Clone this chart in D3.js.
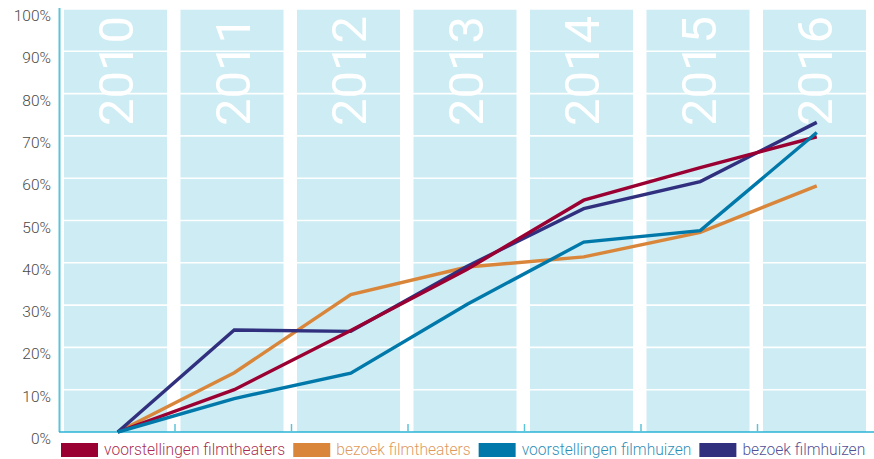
<!DOCTYPE html>
<html>
<head>
<meta charset="utf-8">
<script src="https://cdn.jsdelivr.net/npm/d3@7.9.0/dist/d3.min.js"></script>
<style>
  body { margin: 0; background: #fff; }
  svg { display: block; font-family: Roboto, sans-serif; }
</style>
</head>
<body>
<svg id="chart" width="874" height="459"></svg>
<script>
const years = ['2010', '2011', '2012', '2013', '2014', '2015', '2016'];
const yTicks = [0, 0.1, 0.2, 0.3, 0.4, 0.5, 0.6, 0.7, 0.8, 0.9, 1];

const seriesNames = [
  'voorstellingen filmtheaters',
  'bezoek filmtheaters',
  'voorstellingen filmhuizen',
  'bezoek filmhuizen'
];
const seriesColors = ['#9a0032', '#d9863b', '#0079aa', '#30307f'];

const voorstellingenFilmtheaters = [0, 0.10, 0.24, 0.385, 0.548, 0.625, 0.698];
const bezoekFilmtheaters = [0, 0.14, 0.325, 0.39, 0.414, 0.472, 0.582];
const voorstellingenFilmhuizen = [0, 0.079, 0.139, 0.302, 0.449, 0.476, 0.708];
const bezoekFilmhuizen = [0, 0.241, 0.238, 0.392, 0.528, 0.592, 0.732];

const seriesValues = [
  voorstellingenFilmtheaters,
  bezoekFilmtheaters,
  voorstellingenFilmhuizen,
  bezoekFilmhuizen
];

const svg = d3.select('#chart');

const x = d3.scaleBand()
  .domain(years)
  .range([59, 874.5]);

const y = d3.scaleLinear()
  .domain([0, 1])
  .range([432, 9]);

// light blue column per year
svg.append('g')
  .selectAll('rect')
  .data(years)
  .join('rect')
  .attr('x', d => x(d) + 5)
  .attr('y', y(1))
  .attr('width', 103)
  .attr('height', y(0) - y(1))
  .attr('fill', '#cdecf3');

// white gridlines
svg.append('g')
  .selectAll('line')
  .data(yTicks.slice(1))
  .join('line')
  .attr('x1', 59)
  .attr('x2', 874)
  .attr('y1', d => y(d))
  .attr('y2', d => y(d))
  .attr('stroke', '#fff')
  .attr('stroke-width', 1.6);

// big year labels
svg.append('g')
  .selectAll('text')
  .data(years)
  .join('text')
  .attr('transform', d => `translate(${x(d) + 57},126) rotate(-90)`)
  .attr('dy', '0.355em')
  .attr('fill', '#fff')
  .attr('font-size', 49)
  .text(d => d);

// axes
svg.append('line')
  .attr('x1', 59.5).attr('x2', 59.5)
  .attr('y1', 8).attr('y2', y(0))
  .attr('stroke', '#5cc4d9')
  .attr('stroke-width', 2);

svg.append('line')
  .attr('x1', 59).attr('x2', 874)
  .attr('y1', y(0)).attr('y2', y(0))
  .attr('stroke', '#2bb3d5')
  .attr('stroke-width', 1.5);

svg.append('g')
  .selectAll('line')
  .data(years.slice(1))
  .join('line')
  .attr('x1', d => x(d) - 0.5)
  .attr('x2', d => x(d) - 0.5)
  .attr('y1', y(0))
  .attr('y2', y(0) - 8)
  .attr('stroke', '#5cc4d9')
  .attr('stroke-width', 1.5);

svg.append('g')
  .selectAll('text')
  .data(yTicks)
  .join('text')
  .attr('x', 51)
  .attr('y', d => y(d) + 6.5)
  .attr('dy', '0.36em')
  .attr('text-anchor', 'end')
  .attr('font-size', 15.5)
  .attr('font-weight', 300)
  .attr('fill', '#4a4a4a')
  .text(d => d3.format('.0%')(d));

// lines
const line = d3.line()
  .x((d, i) => x(years[i]) + x.bandwidth() / 2 + 0.5)
  .y(d => y(d));

const drawOrder = [1, 3, 0, 2];
svg.append('g')
  .selectAll('path')
  .data(drawOrder)
  .join('path')
  .attr('d', i => line(seriesValues[i]))
  .attr('fill', 'none')
  .attr('stroke', i => seriesColors[i])
  .attr('stroke-width', 3.4)
  .attr('stroke-linejoin', 'miter');

// legend
const legend = svg.append('g');
let lx = 61;
seriesNames.forEach((name, i) => {
  legend.append('rect')
    .attr('x', lx)
    .attr('y', 443)
    .attr('width', 37)
    .attr('height', 14)
    .attr('fill', seriesColors[i]);
  const t = legend.append('text')
    .attr('x', lx + 43)
    .attr('y', 455)
    .attr('font-size', 15.6)
    .attr('font-weight', 300)
    .attr('fill', seriesColors[i])
    .attr('fill-opacity', 0.85)
    .text(name);
  lx += 43 + t.node().getComputedTextLength() + 8;
});
</script>
</body>
</html>
